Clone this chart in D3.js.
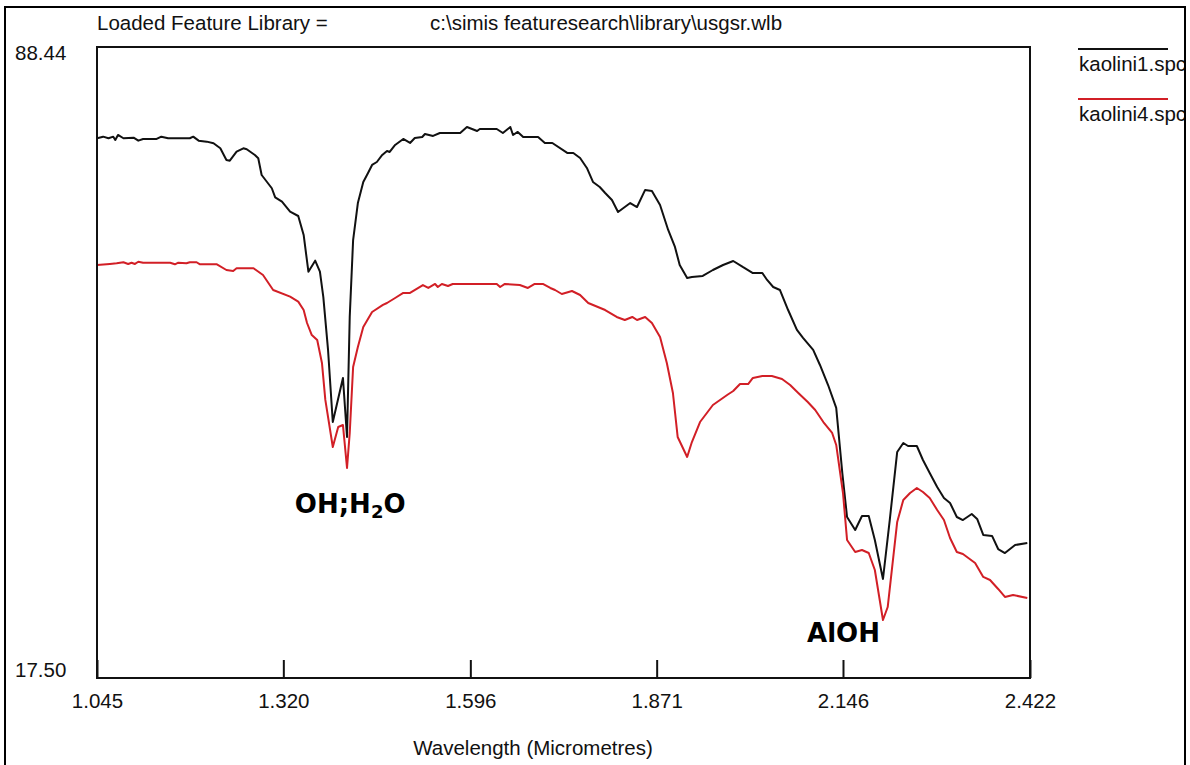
<!DOCTYPE html>
<html>
<head>
<meta charset="utf-8">
<script src="https://cdn.jsdelivr.net/npm/d3@7"></script>
<style>
  html, body { margin: 0; padding: 0; background: #fff; }
  svg { display: block; }
  text { font-family: "Liberation Sans", Arial, sans-serif; }
  text.anno { font-family: "DejaVu Sans", Verdana, sans-serif; font-weight: bold; }
</style>
</head>
<body>
<svg id="chart" width="1190" height="765"></svg>
<script>
// ---- data ----
const xTickLabels = ["1.045", "1.320", "1.596", "1.871", "2.146", "2.422"];
const yLabels = ["88.44", "17.50"];
const seriesNames = ["kaolini1.spc", "kaolini4.spc"];
const headerLeft = "Loaded Feature Library =";
const headerRight = "c:\\simis featuresearch\\library\\usgsr.wlb";
const xTitle = "Wavelength (Micrometres)";

// kaolini1 (black)
const wl1 = [1.045,1.054,1.062,1.069,1.072,1.076,1.084,1.099,1.106,1.113,1.133,1.140,1.150,1.182,1.187,1.195,1.207,1.217,1.227,1.236,1.241,1.251,1.261,1.266,1.278,1.283,1.288,1.303,1.308,1.318,1.330,1.342,1.350,1.357,1.367,1.374,1.379,1.386,1.393,1.408,1.414,1.418,1.423,1.430,1.438,1.445,1.451,1.458,1.466,1.473,1.477,1.485,1.497,1.507,1.514,1.525,1.529,1.541,1.551,1.581,1.591,1.606,1.610,1.635,1.644,1.655,1.659,1.666,1.674,1.696,1.706,1.717,1.739,1.748,1.758,1.768,1.777,1.787,1.795,1.805,1.814,1.832,1.842,1.854,1.864,1.876,1.888,1.898,1.905,1.916,1.923,1.939,1.954,1.969,1.984,1.998,2.013,2.027,2.034,2.043,2.053,2.065,2.078,2.087,2.102,2.112,2.124,2.136,2.145,2.152,2.164,2.174,2.184,2.193,2.205,2.215,2.226,2.235,2.242,2.255,2.264,2.274,2.285,2.295,2.304,2.314,2.323,2.336,2.344,2.353,2.366,2.375,2.385,2.400,2.418];
const refl1 = [78.18,78.36,78.18,78.36,77.99,78.55,78.18,78.25,77.91,78.10,78.10,78.36,78.18,78.18,78.36,77.91,77.80,77.62,77.05,75.74,75.66,76.67,77.05,76.94,76.30,75.93,74.05,72.56,71.54,71.05,69.93,69.44,67.31,63.18,64.42,63.18,60.34,54.38,46.28,51.23,44.60,58.09,66.74,70.90,73.27,74.28,75.18,75.51,76.30,76.75,76.64,77.43,78.10,77.65,78.21,78.32,78.66,78.44,78.77,78.77,79.45,79.00,79.22,79.22,78.77,79.45,78.55,78.89,78.32,78.32,77.65,77.65,76.53,76.53,75.96,74.84,73.27,72.70,72.03,71.24,69.89,70.90,70.45,72.37,72.25,70.68,67.87,65.96,63.93,62.47,62.58,62.70,63.37,63.93,64.38,63.71,63.03,63.03,62.25,61.46,61.12,58.87,56.63,55.73,54.38,52.69,50.44,47.86,40.55,35.60,34.14,35.71,35.71,33.02,28.63,35.26,42.91,43.92,43.58,43.58,42.01,40.55,38.97,37.74,37.18,35.60,35.26,35.94,35.38,33.58,33.47,32.00,31.55,32.45,32.68];

// kaolini4 (red)
const wl4 = [1.045,1.064,1.074,1.084,1.091,1.096,1.101,1.106,1.113,1.153,1.160,1.165,1.177,1.182,1.192,1.197,1.222,1.236,1.246,1.251,1.276,1.290,1.305,1.330,1.342,1.350,1.355,1.362,1.370,1.377,1.382,1.393,1.401,1.408,1.414,1.418,1.423,1.430,1.438,1.451,1.467,1.473,1.485,1.497,1.507,1.526,1.534,1.544,1.548,1.554,1.563,1.570,1.635,1.640,1.647,1.669,1.681,1.691,1.703,1.714,1.721,1.731,1.746,1.758,1.770,1.795,1.812,1.824,1.835,1.842,1.854,1.864,1.876,1.886,1.895,1.902,1.916,1.923,1.935,1.954,1.975,1.984,1.994,2.006,2.013,2.027,2.041,2.056,2.068,2.080,2.094,2.105,2.117,2.130,2.136,2.146,2.152,2.164,2.174,2.184,2.193,2.205,2.212,2.226,2.235,2.245,2.255,2.264,2.274,2.285,2.295,2.304,2.314,2.323,2.341,2.353,2.363,2.375,2.385,2.397,2.418];
const refl4 = [63.93,64.05,64.12,64.24,64.05,64.19,64.05,64.30,64.19,64.19,64.01,64.19,64.12,64.24,64.24,64.01,64.01,63.37,63.26,63.56,63.56,62.81,61.12,60.37,59.81,58.87,57.41,56.06,55.50,52.92,48.76,43.47,45.72,45.94,41.11,45.05,52.47,54.71,56.96,58.65,59.44,59.66,60.22,60.79,60.79,61.68,61.35,61.80,61.46,61.80,61.57,61.80,61.80,61.46,61.80,61.68,61.35,61.80,61.80,61.35,61.12,60.67,61.01,60.56,59.66,58.87,58.09,57.75,58.09,57.75,58.09,57.41,55.84,52.92,49.54,44.60,42.35,44.03,46.28,48.19,49.32,49.77,50.55,50.55,51.23,51.45,51.45,51.12,50.44,49.54,48.53,47.63,46.28,45.05,43.70,38.30,33.02,31.67,31.89,31.55,29.64,24.02,25.48,35.04,37.51,38.30,38.86,38.41,37.74,36.39,35.26,33.24,31.67,31.44,30.43,28.86,28.52,27.51,26.61,26.83,26.49];

const annotations = [
  { parts: [["OH;H", false], ["2", true], ["O", false]], wl: 1.337, val: 36.05 },
  { parts: [["AlOH", false]], wl: 2.093, val: 21.55 }
];

// ---- layout ----
const svg = d3.select("#chart");
const plot = { left: 97, right: 1030, top: 47, bottom: 678 };
const xTicks = xTickLabels.map(Number);
const yMax = +yLabels[0], yMin = +yLabels[1];

const x = d3.scaleLinear().domain([xTicks[0], xTicks[xTicks.length - 1]]).range([plot.left, plot.right]);
const y = d3.scaleLinear().domain([yMin, yMax]).range([plot.bottom, plot.top]);

const FONT = "20.5px";

// outer border
svg.append("rect")
  .attr("x", 5).attr("y", 7).attr("width", 1180).attr("height", 820)
  .attr("fill", "none").attr("stroke", "#000").attr("stroke-width", 2);

// header
svg.append("text").attr("x", 97).attr("y", 30).attr("font-size", FONT).attr("fill", "#111").text(headerLeft);
svg.append("text").attr("x", 430).attr("y", 30).attr("font-size", FONT).attr("fill", "#111").text(headerRight);

// y labels
svg.append("text").attr("x", 15).attr("y", 60).attr("font-size", FONT).attr("fill", "#111").text(yLabels[0]);
svg.append("text").attr("x", 15).attr("y", 677).attr("font-size", FONT).attr("fill", "#111").text(yLabels[1]);

// curves
const line = d3.line().x(d => x(d[0])).y(d => y(d[1]));
const s1 = wl1.map((w, i) => [w, refl1[i]]);
const s4 = wl4.map((w, i) => [w, refl4[i]]);

svg.append("defs").append("clipPath").attr("id", "plotclip")
  .append("rect").attr("x", plot.left).attr("y", plot.top)
  .attr("width", plot.right - plot.left).attr("height", plot.bottom - plot.top);

const g = svg.append("g").attr("clip-path", "url(#plotclip)");
g.append("path").datum(s1).attr("d", line).attr("fill", "none")
  .attr("stroke", "#111").attr("stroke-width", 2).attr("stroke-linejoin", "round");
g.append("path").datum(s4).attr("d", line).attr("fill", "none")
  .attr("stroke", "#d21f26").attr("stroke-width", 2).attr("stroke-linejoin", "round");

// plot box
svg.append("rect")
  .attr("x", plot.left).attr("y", plot.top)
  .attr("width", plot.right - plot.left).attr("height", plot.bottom - plot.top)
  .attr("fill", "none").attr("stroke", "#111").attr("stroke-width", 2);

// x axis
const xAxis = d3.axisBottom(x)
  .tickValues(xTicks)
  .tickFormat((d, i) => xTickLabels[i])
  .tickSizeInner(-18).tickSizeOuter(0).tickPadding(15);
const ax = svg.append("g").attr("transform", `translate(0,${plot.bottom})`).call(xAxis);
ax.select(".domain").remove();
ax.selectAll(".tick line").attr("stroke", "#111").attr("stroke-width", 2);
ax.selectAll(".tick text").attr("font-size", FONT).attr("fill", "#111")
  .style("font-family", "'Liberation Sans', Arial, sans-serif");

// x title
svg.append("text").attr("x", 533).attr("y", 755).attr("text-anchor", "middle")
  .attr("font-size", FONT).attr("fill", "#111").text(xTitle);

// legend (clipped by outer frame)
svg.select("defs").append("clipPath").attr("id", "legclip")
  .append("rect").attr("x", 1040).attr("y", 30).attr("width", 144).attr("height", 120);
const leg = svg.append("g").attr("clip-path", "url(#legclip)");
const legColors = ["#111", "#d21f26"];
seriesNames.forEach((name, i) => {
  const yy = 49 + i * 50;
  leg.append("line").attr("x1", 1078).attr("x2", 1168).attr("y1", yy).attr("y2", yy)
    .attr("stroke", legColors[i]).attr("stroke-width", 2);
  leg.append("text").attr("x", 1079).attr("y", yy + 22).attr("font-size", FONT)
    .attr("fill", "#111").text(name);
});

// annotations
annotations.forEach(a => {
  const t = svg.append("text").attr("class", "anno").attr("x", x(a.wl)).attr("y", y(a.val))
    .attr("font-size", "26px").attr("fill", "#000");
  a.parts.forEach(([s, sub], i) => {
    const ts = t.append("tspan").text(s);
    if (sub) ts.attr("font-size", "18px").attr("dy", 5);
    else if (i > 0) ts.attr("dy", -5);
  });
});
</script>
</body>
</html>
